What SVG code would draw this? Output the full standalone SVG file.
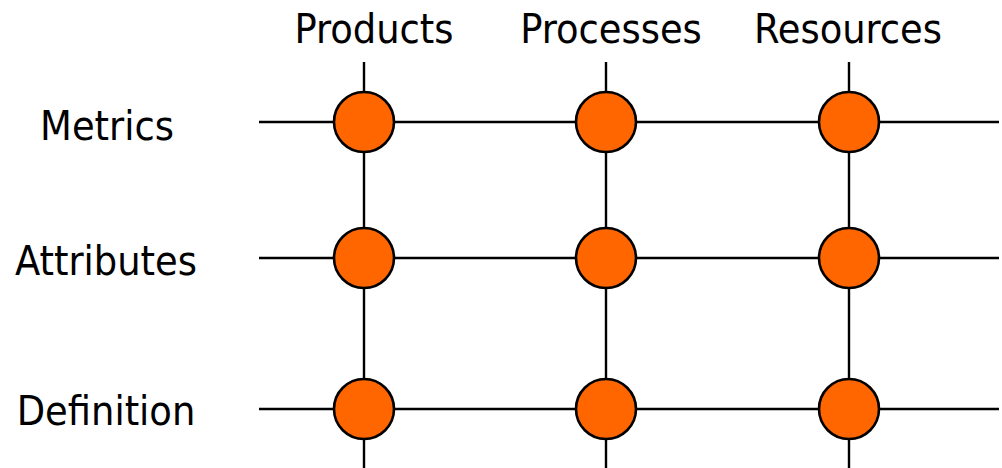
<svg xmlns="http://www.w3.org/2000/svg" width="1002" height="468" viewBox="0 0 1002 468">
  <style>
    .lbl { font-family: "DejaVu Sans Condensed", "DejaVu Sans", sans-serif; font-size: 41px; fill: #000; text-anchor: middle; }
    .ln { stroke: #000; stroke-width: 2.4; fill: none; }
    .dot { fill: #ff6600; stroke: #000; stroke-width: 2.6; }
  </style>
  <rect width="1002" height="468" fill="#fff"/>

  <!-- grid lines -->
  <g id="connectors">
    <line class="ln" x1="259" y1="122" x2="999" y2="122"/>
    <line class="ln" x1="259" y1="258" x2="999" y2="258"/>
    <line class="ln" x1="259" y1="409" x2="999" y2="409"/>
    <line class="ln" x1="364" y1="62" x2="364" y2="468"/>
    <line class="ln" x1="606" y1="62" x2="606" y2="468"/>
    <line class="ln" x1="849" y1="62" x2="849" y2="468"/>
  </g>

  <!-- column headers -->
  <g id="col-products"><text class="lbl" x="374" y="43">Products</text></g>
  <g id="col-processes"><text class="lbl" x="611" y="43">Processes</text></g>
  <g id="col-resources"><text class="lbl" x="848" y="43">Resources</text></g>

  <!-- row labels -->
  <g id="row-metrics"><text class="lbl" x="107" y="140">Metrics</text></g>
  <g id="row-attributes"><text class="lbl" x="106" y="275">Attributes</text></g>
  <g id="row-definition"><text class="lbl" x="106" y="425">Definition</text></g>

  <!-- intersection nodes -->
  <g id="n-metrics-products"><circle class="dot" cx="364" cy="122" r="30"/></g>
  <g id="n-metrics-processes"><circle class="dot" cx="606" cy="122" r="30"/></g>
  <g id="n-metrics-resources"><circle class="dot" cx="849" cy="122" r="30"/></g>
  <g id="n-attributes-products"><circle class="dot" cx="364" cy="258" r="30"/></g>
  <g id="n-attributes-processes"><circle class="dot" cx="606" cy="258" r="30"/></g>
  <g id="n-attributes-resources"><circle class="dot" cx="849" cy="258" r="30"/></g>
  <g id="n-definition-products"><circle class="dot" cx="364" cy="409" r="30"/></g>
  <g id="n-definition-processes"><circle class="dot" cx="606" cy="409" r="30"/></g>
  <g id="n-definition-resources"><circle class="dot" cx="849" cy="409" r="30"/></g>
</svg>
